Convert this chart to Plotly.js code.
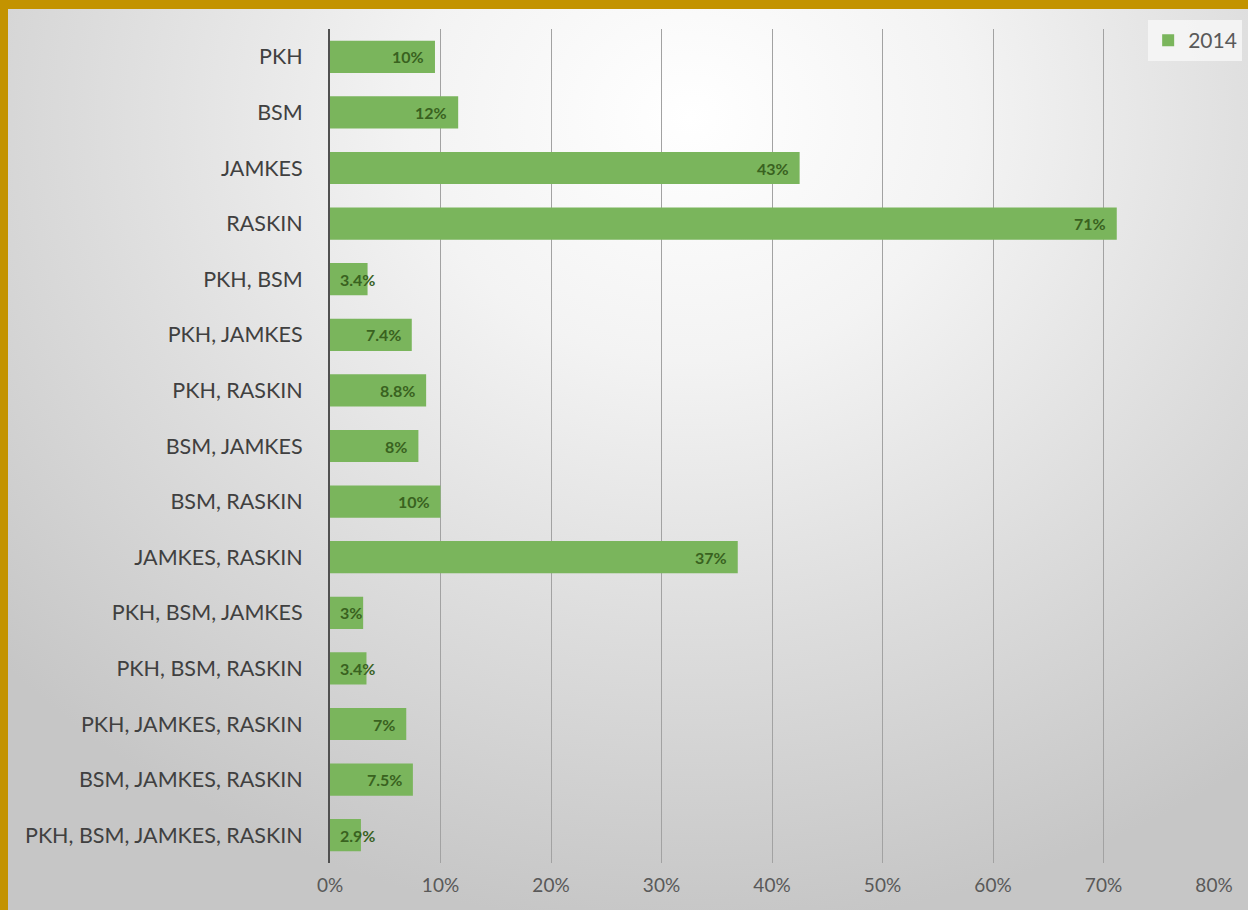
<!DOCTYPE html>
<html>
<head>
<meta charset="utf-8">
<script src="https://cdn.plot.ly/plotly-3.0.1.min.js"></script>
<style>
  html, body { margin: 0; padding: 0; width: 1248px; height: 910px; overflow: hidden; background: #C39300; }
  #bg { position: absolute; left: 8px; top: 9px; width: 1240px; height: 901px;
        background: radial-gradient(ellipse 75% 90% at 55% 12%, #ffffff 0%, #f3f3f3 30%, #dcdcdc 65%, #c6c6c6 100%); }
  #chart { position: absolute; left: 0; top: 0; width: 1248px; height: 910px; }
</style>
</head>
<body>
<div id="bg"></div>
<div id="chart"></div>
<script>
const categories = ["PKH", "BSM", "JAMKES", "RASKIN", "PKH, BSM", "PKH, JAMKES", "PKH, RASKIN",
  "BSM, JAMKES", "BSM, RASKIN", "JAMKES, RASKIN", "PKH, BSM, JAMKES", "PKH, BSM, RASKIN",
  "PKH, JAMKES, RASKIN", "BSM, JAMKES, RASKIN", "PKH, BSM, JAMKES, RASKIN"];
const values2014 = [9.5, 11.6, 42.5, 71.2, 3.4, 7.4, 8.7, 8.0, 10.0, 36.9, 3.0, 3.3, 6.9, 7.5, 2.8];
const labels2014 = ["10%", "12%", "43%", "71%", "3.4%", "7.4%", "8.8%", "8%", "10%", "37%", "3%", "3.4%", "7%", "7.5%", "2.9%"];
const tickValues = [0, 10, 20, 30, 40, 50, 60, 70, 80];
const tickLabels = ["0%", "10%", "20%", "30%", "40%", "50%", "60%", "70%", "80%"];

const barColor = "#7AB55C";
const labelFont = { family: "Lato, 'Open Sans', sans-serif", size: 16, color: "#39621F" };

const annotations = categories.map((c, i) => {
  const small = values2014[i] < 5;
  return {
    x: small ? 0 : values2014[i], y: c, xref: "x", yref: "y",
    text: "<b>" + labels2014[i] + "</b>", showarrow: false,
    xanchor: small ? "left" : "right", xshift: small ? 8 : -9,
    font: labelFont
  };
});

const trace = {
  type: "bar", orientation: "h", name: "2014",
  y: categories, x: values2014,
  marker: { color: barColor },
  hoverinfo: "skip"
};

const layout = {
  width: 1248, height: 910,
  paper_bgcolor: "rgba(0,0,0,0)", plot_bgcolor: "rgba(0,0,0,0)",
  margin: { l: 330, r: 34, t: 29, b: 47, autoexpand: false },
  bargap: 0.42,
  font: { family: "Lato, 'Open Sans', sans-serif", color: "#595959" },
  xaxis: {
    range: [0, 80], tickvals: tickValues, ticktext: tickLabels,
    showgrid: true, gridcolor: "#a2a2a2", gridwidth: 1, zeroline: false,
    showline: false, ticks: "", ticklabelstandoff: 9,
    tickfont: { size: 19, color: "#595959" }, fixedrange: true, automargin: false
  },
  yaxis: {
    autorange: "reversed", type: "category",
    showline: true, linecolor: "#505050", linewidth: 2,
    showgrid: false, zeroline: false, ticks: "", ticklabelstandoff: 21,
    tickfont: { size: 21.5, color: "#404040" }, fixedrange: true, automargin: false
  },
  showlegend: true,
  legend: {
    xref: "container", yref: "container", x: 0.92, y: 0.978, xanchor: "left", yanchor: "top",
    bgcolor: "rgba(248,248,248,0.8)", borderwidth: 0,
    font: { size: 21, color: "#595959" }
  },
  annotations: annotations
};

Plotly.newPlot("chart", [trace], layout, { displayModeBar: false, staticPlot: true });
</script>
</body>
</html>
